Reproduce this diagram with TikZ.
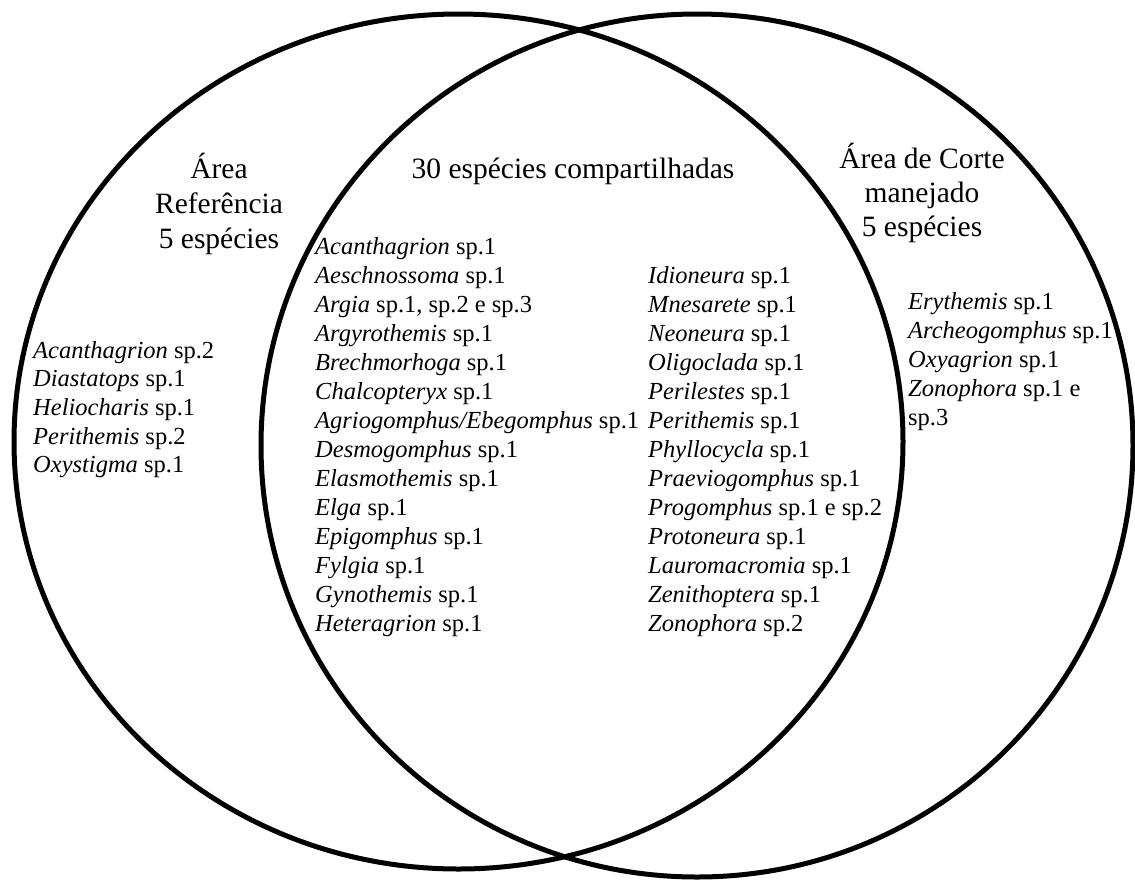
\documentclass[tikz,border=0pt]{standalone}
\usepackage{fontspec}
\setmainfont{Liberation Serif}
\begin{document}
\begin{tikzpicture}[x=1pt,y=-1pt,
  ring/.style={draw=black,line width=5pt},
  sptext/.style={anchor=base west,inner sep=0pt,font=\fontsize{24.5}{29}\selectfont},
  title/.style={anchor=base,inner sep=0pt,font=\fontsize{29.5}{35}\selectfont}]
\useasboundingbox (0,0) rectangle (1135,879);
\draw[ring] (458.5,441.5) ellipse [x radius=444.5pt,y radius=427.5pt];
\draw[ring] (697,445.5) ellipse [x radius=436pt,y radius=431.5pt];
% titles
\node[title] (tl1) at (219,178) {Área};
\node[title] (tl2) at (219,213) {Referência};
\node[title] (tl3) at (219,248) {5 espécies};
\node[title] (tc) at (573,178) {30 espécies compartilhadas};
\node[title] (tr1) at (922,168) {Área de Corte};
\node[title] (tr2) at (922,202) {manejado};
\node[title] (tr3) at (922,236) {5 espécies};
% left list
\foreach \t [count=\i] in {{\textit{Acanthagrion} sp.2},{\textit{Diastatops} sp.1},{\textit{Heliocharis} sp.1},{\textit{Perithemis} sp.2},{\textit{Oxystigma} sp.1}}
  \node[sptext] (l\i) at (33,{358+28.7*(\i-1)}) {\t};
% center left column
\foreach \t [count=\i] in {{\textit{Acanthagrion} sp.1},{\textit{Aeschnossoma} sp.1},{\textit{Argia} sp.1, sp.2 e sp.3},{\textit{Argyrothemis} sp.1},{\textit{Brechmorhoga} sp.1},{\textit{Chalcopteryx} sp.1},{\textit{Agriogomphus/Ebegomphus} sp.1},{\textit{Desmogomphus} sp.1},{\textit{Elasmothemis} sp.1},{\textit{Elga} sp.1},{\textit{Epigomphus} sp.1},{\textit{Fylgia} sp.1},{\textit{Gynothemis} sp.1},{\textit{Heteragrion} sp.1}}
  \node[sptext] (ca\i) at (315,{254+29*(\i-1)}) {\t};
% center right column
\foreach \t [count=\i] in {{\textit{Idioneura} sp.1},{\textit{Mnesarete} sp.1},{\textit{Neoneura} sp.1},{\textit{Oligoclada} sp.1},{\textit{Perilestes} sp.1},{\textit{Perithemis} sp.1},{\textit{Phyllocycla} sp.1},{\textit{Praeviogomphus} sp.1},{\textit{Progomphus} sp.1 e sp.2},{\textit{Protoneura} sp.1},{\textit{Lauromacromia} sp.1},{\textit{Zenithoptera} sp.1},{\textit{Zonophora} sp.2}}
  \node[sptext] (cb\i) at (648,{283+29*(\i-1)}) {\t};
% right list
\foreach \t [count=\i] in {{\textit{Erythemis} sp.1},{\textit{Archeogomphus} sp.1},{\textit{Oxyagrion} sp.1},{\textit{Zonophora} sp.1 e},{sp.3}}
  \node[sptext] (r\i) at (908,{309+29*(\i-1)}) {\t};
\end{tikzpicture}
\end{document}
